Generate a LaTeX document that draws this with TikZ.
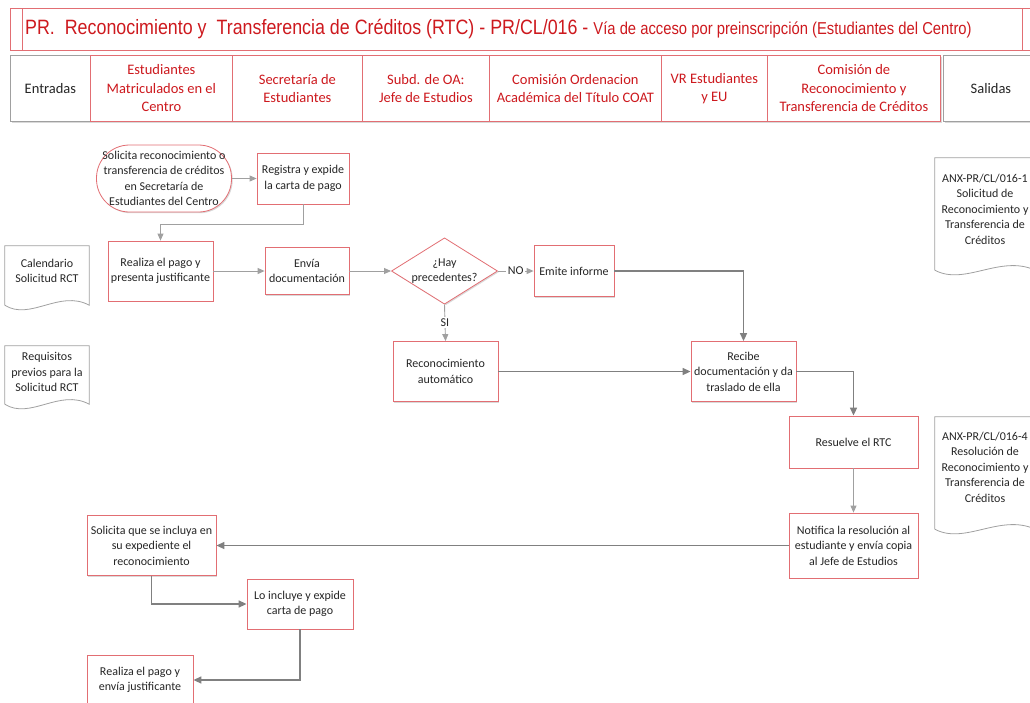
\documentclass[tikz,border=0pt]{standalone}
\usepackage{fontspec}
\setmainfont{Carlito}
\newfontfamily\titlefont[FakeStretch=0.86]{Liberation Sans}
\usetikzlibrary{shapes.geometric,shadows,calc,arrows.meta}
\definecolor{boxred}{RGB}{226,110,115}
\definecolor{txtred}{RGB}{205,25,30}
\definecolor{lightline}{RGB}{160,160,160}
\definecolor{darkline}{RGB}{128,128,128}
\tikzstyle{titlebox}=[draw=boxred,line width=0.8pt,anchor=north west,inner sep=0pt]
\tikzstyle{lane}=[draw=boxred,line width=0.8pt,fill=white,text=txtred,align=center,anchor=north west,minimum height=66pt,inner sep=0pt,font=\fontsize{14.5}{18.5}\selectfont,drop shadow={shadow xshift=1.2pt,shadow yshift=-1.2pt,fill=black,opacity=0.15}]
\tikzstyle{procbox}=[rectangle,draw=boxred,line width=0.8pt,fill=white,text=black!85,align=center,inner sep=2pt,font=\fontsize{12}{15.5}\selectfont,drop shadow={shadow xshift=1.2pt,shadow yshift=-1.2pt,fill=black,opacity=0.15}]
\tikzstyle{startbox}=[procbox,rounded corners=33pt,inner sep=0pt]
\tikzstyle{decision}=[procbox,diamond,aspect=1.6,inner sep=0pt]
\tikzstyle{doctext}=[align=center,text=black!85,inner sep=0pt,font=\fontsize{12}{15.5}\selectfont]
\tikzstyle{docline}=[draw=lightline,line width=0.8pt]
\tikzstyle{thinarrow}=[draw=lightline,line width=0.9pt,-{Triangle[length=7pt,width=6pt]}]
\tikzstyle{thickarrow}=[draw=darkline,line width=1.5pt,-{Triangle[length=8pt,width=7pt]}]
\tikzstyle{flowlabel}=[fill=white,inner sep=1.5pt,text=black!85,font=\fontsize{12}{14}\selectfont]

\begin{document}
\begin{tikzpicture}[x=1pt,y=-1pt]
\useasboundingbox (0,0) rectangle (1030,702);

%Titulo
\node[titlebox,minimum width=1030pt,minimum height=42pt] (titulo) at (10,8) {};
\draw[boxred,line width=0.8pt] ($(titulo.north west)+(12,0)$) -- ($(titulo.south west)+(12,0)$);
\draw[boxred,line width=0.8pt] ($(titulo.north west)+(1012,0)$) -- ($(titulo.south west)+(1012,0)$);
\node[anchor=west,text=txtred,inner sep=0pt] (titulotxt) at (25,29)
  {\titlefont\fontsize{20.75}{23}\selectfont PR.\ \ Reconocimiento y\ \ Transferencia de Créditos (RTC) - PR/CL/016 -\ {\fontsize{17.2}{19}\selectfont Vía de acceso por preinscripción (Estudiantes del Centro)}};

%Carriles
\node[lane,draw=lightline,text=black!85,minimum width=80pt] (entradas) at (10,55) {Entradas};
\foreach \xa/\xb/\name/\txt in {90/232/estud/{Estudiantes\\Matriculados en el\\Centro}, 232/362/secre/{Secretaría de\\Estudiantes}, 362/489/subd/{Subd. de OA:\\Jefe de Estudios}, 489/661/coat/{Comisión Ordenacion\\Académica del Título COAT}, 661/767/vr/{VR Estudiantes\\y EU}, 767/940/crtc/{Comisión de\\Reconocimiento y\\Transferencia de Créditos}}
    \node[lane,minimum width={(\xb-\xa)*1pt}] (\name) at (\xa,55) {\txt};
\node[lane,draw=lightline,text=black!85,minimum width=95pt] (salidas) at (943,55) {Salidas};

%Entradas y salidas
\node[doctext,minimum width=84pt,minimum height=50pt] (calendario) at (47,271) {Calendario\\Solicitud RCT};
\node[doctext,minimum width=84pt,minimum height=52pt] (requisitos) at (47,372) {Requisitos\\previos para la\\Solicitud RCT};
\node[doctext,minimum width=100pt,minimum height=102pt] (anxuno) at (985,209) {ANX-PR/CL/016-1\\Solicitud de\\Reconocimiento y\\Transferencia de\\Créditos};
\node[doctext,minimum width=100pt,minimum height=100pt] (anxcuatro) at (985,467) {ANX-PR/CL/016-4\\Resolución de\\Reconocimiento y\\Transferencia de\\Créditos};
\foreach \n/\d in {calendario/9, requisitos/6, anxuno/10, anxcuatro/12}
    \draw[docline] ($(\n.south west)+(0,\d)$) -- (\n.north west) -- (\n.north east) -- ($(\n.south east)+(0,\d)$)
      .. controls ($(\n.south east)!0.35!(\n.south west)+(0,{\d-16})$) and ($(\n.south east)!0.7!(\n.south west)+(0,{\d+16})$) .. ($(\n.south west)+(0,\d)$);

%Flujo
\node[startbox,minimum width=135pt,minimum height=67pt] (solicita) at (164,178.5) {Solicita reconocimiento o\\transferencia de créditos\\en Secretaría de\\Estudiantes del Centro};
\node[procbox,minimum width=92pt,minimum height=51pt] (registra) at (303,178.5) {Registra y expide\\la carta de pago};
\node[procbox,minimum width=105pt,minimum height=60pt] (realiza) at (160.5,271) {Realiza el pago y\\presenta justificante};
\node[procbox,minimum width=84pt,minimum height=47pt] (envia) at (307,271) {Envía\\documentación};
\node[decision,minimum width=105pt,minimum height=66pt] (precedentes) at (444.5,271) {¿Hay\\precedentes?};
\node[procbox,minimum width=80pt,minimum height=51pt] (emite) at (574,271) {Emite informe};
\node[procbox,minimum width=105pt,minimum height=60pt] (reconoc) at (445.5,371.5) {Reconocimiento\\automático};
\node[procbox,minimum width=105pt,minimum height=60pt] (recibe) at (743.5,371.5) {Recibe\\documentación y da\\traslado de ella};
\node[procbox,minimum width=129pt,minimum height=52pt] (resuelve) at (853.5,442) {Resuelve el RTC};
\node[procbox,minimum width=129pt,minimum height=65pt] (notifica) at (853.5,545.5) {Notifica la resolución al\\estudiante y envía copia\\al Jefe de Estudios};
\node[procbox,minimum width=129pt,minimum height=60pt] (incluya) at (151.5,545.5) {Solicita que se incluya en\\su expediente el\\reconocimiento};
\node[procbox,minimum width=106pt,minimum height=50pt] (incluye) at (300,604) {Lo incluye y expide\\carta de pago};
\node[procbox,minimum width=106pt,minimum height=50pt] (pago) at (140,680) {Realiza el pago y\\envía justificante};

\draw[thinarrow] (solicita.east) -- (registra.west);
\draw[thinarrow] (registra.south) -- ++(0,20) -| (realiza.north);
\draw[thinarrow] (realiza.east) -- (envia.west);
\draw[thinarrow] (envia.east) -- (precedentes.west);
\draw[thinarrow] (precedentes.east) -- node[flowlabel] {NO} (emite.west);
\draw[thinarrow] (precedentes.south) -- node[flowlabel] {SI} (reconoc.north);
\draw[thickarrow] (emite.east) -| (recibe.north);
\draw[thickarrow] (reconoc.east) -- (recibe.west);
\draw[thickarrow] (recibe.east) -| (resuelve.north);
\draw[thinarrow] (resuelve.south) -- (notifica.north);
\draw[thickarrow] (notifica.west) -- (incluya.east);
\draw[thickarrow] (incluya.south) |- (incluye.west);
\draw[thickarrow] (incluye.south) |- (pago.east);

\end{tikzpicture}
\end{document}
